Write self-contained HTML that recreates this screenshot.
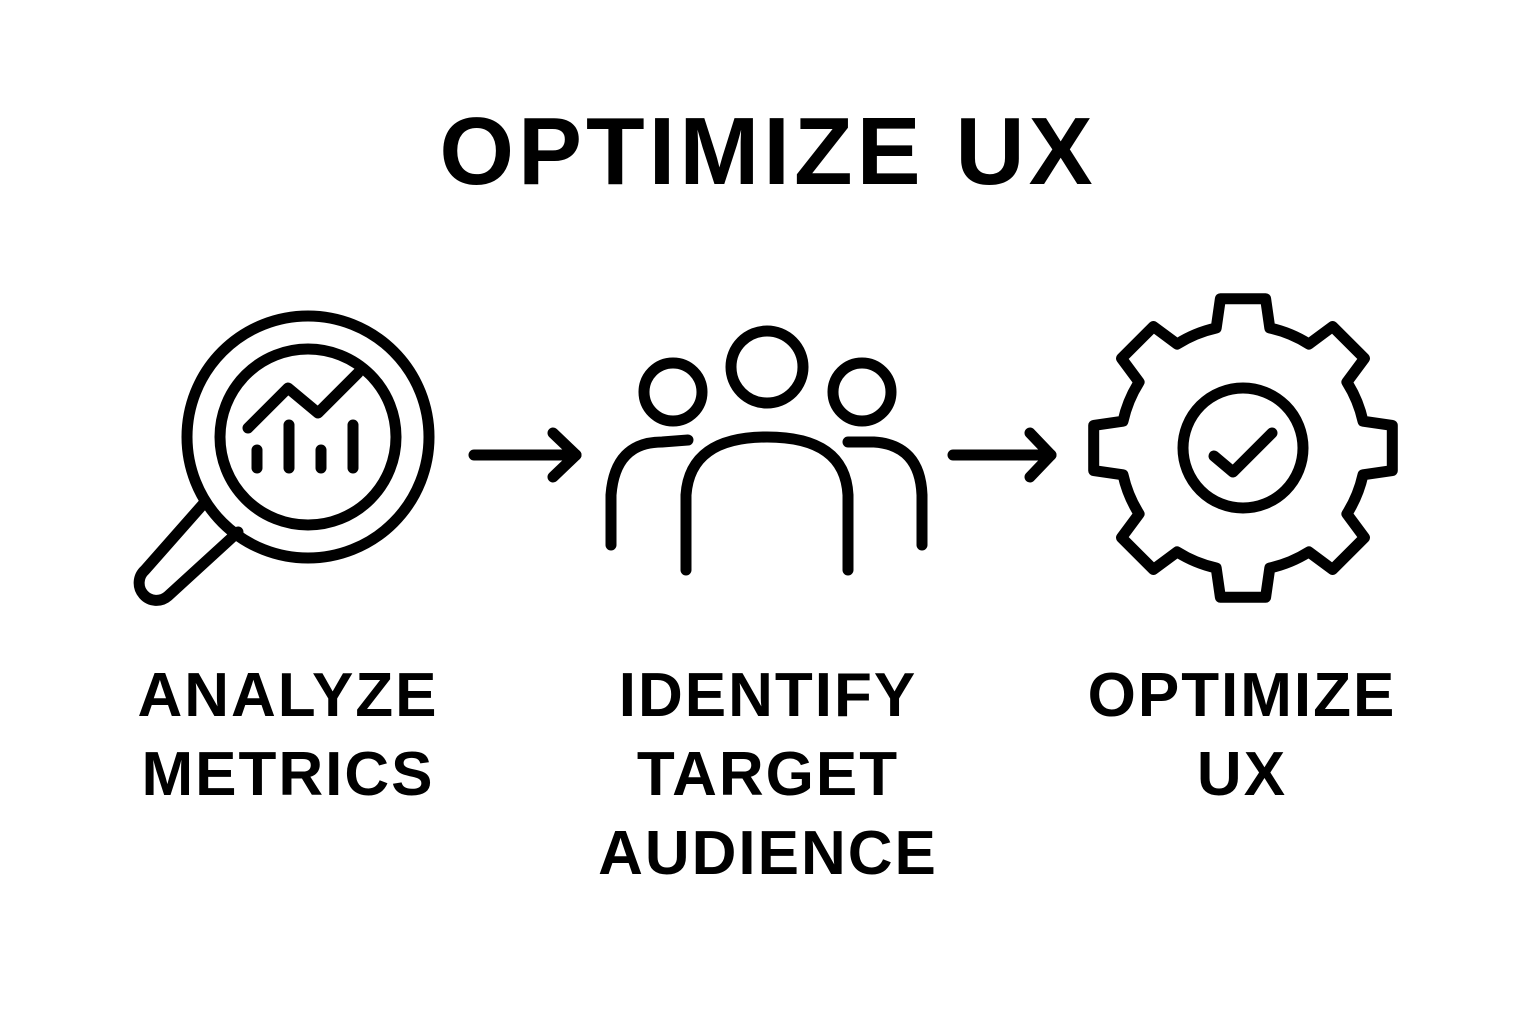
<!DOCTYPE html>
<html><head><meta charset="utf-8"><style>
html,body{margin:0;padding:0;background:#fff;}
body{width:1536px;height:1024px;overflow:hidden;position:relative;font-family:"Liberation Sans",sans-serif;}
.t{position:absolute;text-align:center;font-weight:bold;color:#000;white-space:nowrap;}
</style></head><body>
<div class="t" style="left:0;width:1536px;top:100px;font-size:96px;line-height:104px;letter-spacing:4px;">OPTIMIZE UX</div>
<div class="t" style="left:88px;width:400px;top:656px;font-size:62px;line-height:79px;letter-spacing:2px;">ANALYZE<br>METRICS</div>
<div class="t" style="left:568px;width:400px;top:656px;font-size:62px;line-height:79px;letter-spacing:2px;">IDENTIFY<br>TARGET<br>AUDIENCE</div>
<div class="t" style="left:1042px;width:400px;top:656px;font-size:62px;line-height:79px;letter-spacing:2px;">OPTIMIZE<br>UX</div>
<svg width="1536" height="1024" style="position:absolute;left:0;top:0" fill="none" stroke="#000" stroke-width="11" stroke-linecap="round" stroke-linejoin="round">
<circle cx="308" cy="437" r="121"/>
<circle cx="308" cy="437" r="88"/>
<path d="M205 502 L145 570 A17 17 0 0 0 168 596 L238 532"/>
<polyline points="248,428 288,388 318,413 358,373"/>
<line x1="257" y1="450" x2="257" y2="468"/><line x1="289" y1="425" x2="289" y2="468"/>
<line x1="321" y1="450" x2="321" y2="468"/><line x1="353" y1="425" x2="353" y2="468"/>
<line x1="474" y1="455" x2="576" y2="455"/><polyline points="553,433 576,455 553,477"/>
<line x1="953" y1="455" x2="1051" y2="455"/><polyline points="1030,433 1051,455 1030,477"/>
<circle cx="767" cy="367" r="36"/>
<circle cx="673" cy="392" r="29"/>
<circle cx="862" cy="392" r="29"/>
<path d="M686 570 L686 495 Q690 437 767 437 Q845 437 848 495 L848 570"/>
<path d="M611 545 L611 495 Q615 442 662 442 L688 440"/>
<path d="M848 442 L874 442 Q920 445 922 495 L922 545"/>
<path id="gear" d=""/>
<circle cx="1243" cy="448" r="60"/>
<polyline points="1214,456 1233,472 1272,433"/>
</svg>
<script>
(function(){var cx=1243,cy=448,R=151,r=123,tb=0.22,tt=0.15,d='';
function P(rr,a){return (cx+rr*Math.cos(a)).toFixed(1)+' '+(cy+rr*Math.sin(a)).toFixed(1);}
for(var i=0;i<8;i++){var a=(-90+i*45)*Math.PI/180;
d+=(i==0?'M':'L')+P(r,a-tb)+' L'+P(R,a-tt)+' L'+P(R,a+tt)+' L'+P(r,a+tb)+' ';
var n=(-90+(i+1)*45)*Math.PI/180;
d+='A'+r+' '+r+' 0 0 1 '+P(r,n-tb)+' ';}
document.getElementById('gear').setAttribute('d',d+'Z');})();
</script>
</body></html>
